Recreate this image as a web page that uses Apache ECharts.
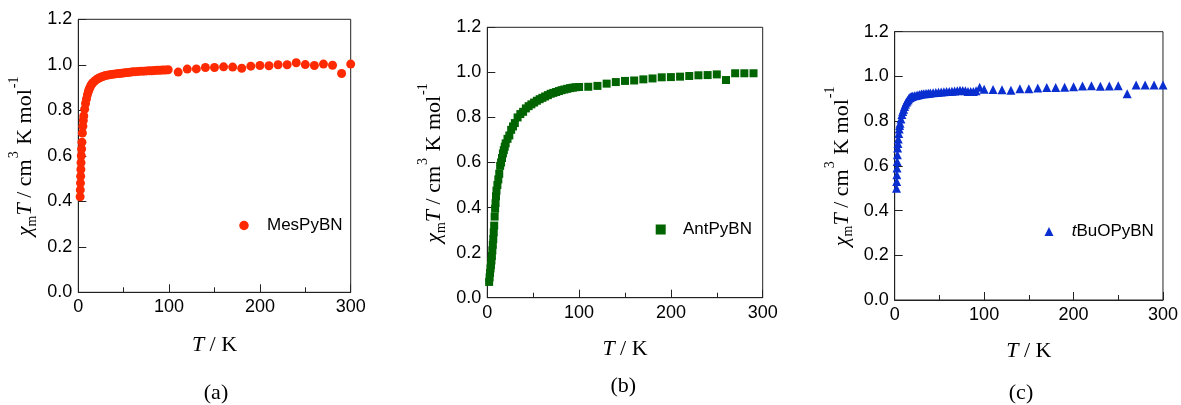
<!DOCTYPE html>
<html>
<head>
<meta charset="utf-8">
<script src="https://cdn.jsdelivr.net/npm/echarts@6/dist/echarts.min.js"></script>
<style>html,body{margin:0;padding:0;background:#fff;}#c{width:1181px;height:405px;}</style>
</head>
<body>
<div id="c"></div>
<script>
// ---- Data ----
const tA = [2,2.2,2.4,2.6,2.8,3,3.3,3.6,4,4.5,5,5.5,6,7,8,9,10,11,12,13,14,15,16,18,20,22,24,26,28,30,33,36,39,42,45,48,51,54,57,60,63,66,69,72,75,78,81,84,87,90,93,96,99,
  110,120,130,140,150,160,170,180,190,200,210,220,230,240,250,260,270,280,290,300];
const vA = [0.42,0.45,0.48,0.51,0.54,0.57,0.60,0.63,0.66,0.70,0.73,0.755,0.775,0.805,0.83,0.85,0.868,0.882,0.893,0.902,0.91,0.916,0.921,0.929,0.935,0.94,0.944,0.947,0.95,0.953,0.955,0.957,0.959,0.961,0.962,0.963,0.965,0.966,0.967,0.969,0.97,0.971,0.972,0.972,0.973,0.974,0.974,0.975,0.976,0.976,0.977,0.977,0.978,
  0.968,0.981,0.982,0.988,0.988,0.991,0.99,0.985,0.994,0.997,0.996,1.0,1.0,1.009,1.001,0.997,1.003,0.998,0.962,1.003];

const tB = [2,2.5,3,3.5,4,4.5,5,5.5,6,6.5,7,7.5,8,8.5,9,9.5,10,11,12,13,14,15,16,17,18,19,20,22,24,26,28,30,33,36,39,42,45,48,51,54,57,60,63,66,69,72,75,78,81,84,87,90,93,96,100,
  110,120,130,140,150,160,170,180,190,200,210,220,230,240,250,260,270,280,290];
const vB = [0.07,0.09,0.11,0.13,0.145,0.165,0.185,0.21,0.235,0.26,0.29,0.32,0.36,0.395,0.42,0.45,0.475,0.50,0.525,0.55,0.585,0.60,0.62,0.64,0.655,0.67,0.685,0.705,0.72,0.745,0.76,0.775,0.80,0.815,0.825,0.84,0.85,0.858,0.866,0.874,0.881,0.887,0.893,0.899,0.905,0.909,0.913,0.917,0.921,0.924,0.927,0.93,0.932,0.934,0.935,
  0.936,0.94,0.95,0.957,0.962,0.964,0.969,0.973,0.978,0.979,0.981,0.984,0.987,0.988,0.991,0.966,0.996,0.996,0.996];

const tC = [2,2.2,2.4,2.6,2.8,3,3.3,3.6,4,4.5,5,5.5,6,7,8,9,10,11,12,13,14,15,16,17,18,19,20,22,24,26,28,30,32,34,36,38,40,43,46,49,52,55,58,61,64,67,70,73,76,79,82,85,88,91,95,100,
  110,120,130,140,150,160,170,180,190,200,210,220,230,240,250,260,270,280,290,300];
const vC = [0.50,0.53,0.56,0.59,0.62,0.65,0.68,0.70,0.72,0.745,0.765,0.78,0.79,0.81,0.83,0.843,0.853,0.865,0.875,0.884,0.89,0.896,0.902,0.906,0.908,0.91,0.911,0.913,0.915,0.917,0.919,0.921,0.922,0.923,0.924,0.925,0.926,0.927,0.928,0.929,0.93,0.931,0.932,0.933,0.934,0.935,0.936,0.938,0.937,0.936,0.933,0.932,0.933,0.936,0.951,0.943,
  0.942,0.94,0.938,0.945,0.945,0.948,0.95,0.95,0.952,0.954,0.957,0.958,0.956,0.957,0.958,0.922,0.962,0.962,0.962,0.962];

const xTicks = {min: 0, max: 300, interval: 100};
const yTicks = {min: 0, max: 1.2, interval: 0.2};
const names = ['MesPyBN', 'AntPyBN', 'tBuOPyBN'];
const panelLabels = ['(a)', '(b)', '(c)'];

// ---- Layout / style ----
const grids = [
  {left: 78.3, top: 19.3, width: 272.4, height: 273},
  {left: 487.3, top: 27.3, width: 275.4, height: 270.4},
  {left: 894.7, top: 31.7, width: 269.6, height: 268.3}
];
const colors = ['#ff2a00', '#006400', '#0a2fd0'];
const symbols = ['circle', 'rect', 'triangle'];
const symSizes = [9, 8, 9];
const legendSizes = [9.5, 10, 9];
// marker centres of the legend entries and gap from marker centre to text start
const legendCenters = [[244, 226], [660.7, 230], [1049, 232]];
const legendTextOffset = [23, 22.3, 22.7];
const labelPos = [[216, 393.3], [623.3, 386.7], [1021, 393.3]];
const yNameGap = [33, 33, 32];
const xNameGap = [41.7, 41, 40.6];

const sans = 'Liberation Sans, Arial, sans-serif';
const serif = 'Liberation Serif, Times New Roman, serif';
const axisCol = '#222';

function zip(t, v) { return t.map((x, i) => [x, v[i]]); }
const datas = [zip(tA, vA), zip(tB, vB), zip(tC, vC)];

const yNameRich = {
  n: {fontFamily: serif, fontSize: 22, color: '#000', lineHeight: 22},
  it: {fontFamily: serif, fontSize: 22, fontStyle: 'italic', color: '#000', lineHeight: 22},
  sub: {fontFamily: serif, fontSize: 14, color: '#000', lineHeight: 14, padding: [14, 0, 0, 0]},
  sup: {fontFamily: serif, fontSize: 14, color: '#000', lineHeight: 14, padding: [0, 1, 22, 1]}
};
const yName = '{it|χ}{sub|m}{it|T}{n| / cm}{sup|3}{n| K mol}{sup|-1}';
const xName = '{it|T}{n| / K}';

const option = {
  backgroundColor: '#fff',
  animation: false,
  grid: grids.map(g => Object.assign({show: true, borderColor: axisCol, borderWidth: 1, containLabel: false}, g)),
  xAxis: grids.map((g, i) => ({
    gridIndex: i, type: 'value', min: xTicks.min, max: xTicks.max, interval: xTicks.interval,
    axisLine: {show: true, lineStyle: {color: axisCol, width: 1}},
    axisTick: {show: true, inside: true, length: 8, lineStyle: {color: axisCol}},
    minorTick: {show: true, splitNumber: 2, length: 5, lineStyle: {color: axisCol}},
    axisLabel: {fontFamily: sans, fontSize: 18, color: '#000', margin: 6},
    splitLine: {show: false},
    name: xName, nameLocation: 'middle', nameGap: xNameGap[i],
    nameTextStyle: {rich: yNameRich}
  })),
  yAxis: grids.map((g, i) => ({
    gridIndex: i, type: 'value', min: yTicks.min, max: yTicks.max, interval: yTicks.interval,
    axisLine: {show: true, lineStyle: {color: axisCol, width: 1}},
    axisTick: {show: true, inside: true, length: 8, lineStyle: {color: axisCol}},
    axisLabel: {fontFamily: sans, fontSize: 18, color: '#000', margin: 6, formatter: v => v.toFixed(1)},
    splitLine: {show: false},
    name: yName, nameLocation: 'middle', nameGap: yNameGap[i],
    nameTextStyle: {rich: yNameRich}
  })),
  legend: legendCenters.map((p, i) => {
    const s = legendSizes[i];
    const pad = legendTextOffset[i] - s / 2 - 5;
    return {
      left: p[0] - s / 2, top: p[1] - 9, padding: 0, itemWidth: s, itemHeight: s,
      data: [names[i]],
      formatter: n => n === 'tBuOPyBN' ? '{i|t}{r|BuOPyBN}' : '{p|' + n + '}',
      textStyle: {
        fontFamily: sans, fontSize: 17, color: '#000',
        rich: {
          p: {fontFamily: sans, fontSize: 17, color: '#000', padding: [0, 0, 0, pad]},
          r: {fontFamily: sans, fontSize: 17, color: '#000'},
          i: {fontFamily: sans, fontSize: 17, color: '#000', fontStyle: 'italic', padding: [0, 0, 0, pad]}
        }
      }
    };
  }),
  graphic: labelPos.map((p, i) => ({
    type: 'text', x: p[0], y: p[1],
    style: {text: panelLabels[i], font: '22px ' + serif, fill: '#000', align: 'center', verticalAlign: 'middle'}
  })),
  series: datas.map((d, i) => ({
    name: names[i], type: 'scatter', xAxisIndex: i, yAxisIndex: i,
    data: d, symbol: symbols[i], symbolSize: symSizes[i],
    itemStyle: {color: colors[i], opacity: 1},
    emphasis: {disabled: true}
  }))
};

const chart = echarts.init(document.getElementById('c'), null, {renderer: 'canvas'});
chart.setOption(option);
</script>
</body>
</html>
